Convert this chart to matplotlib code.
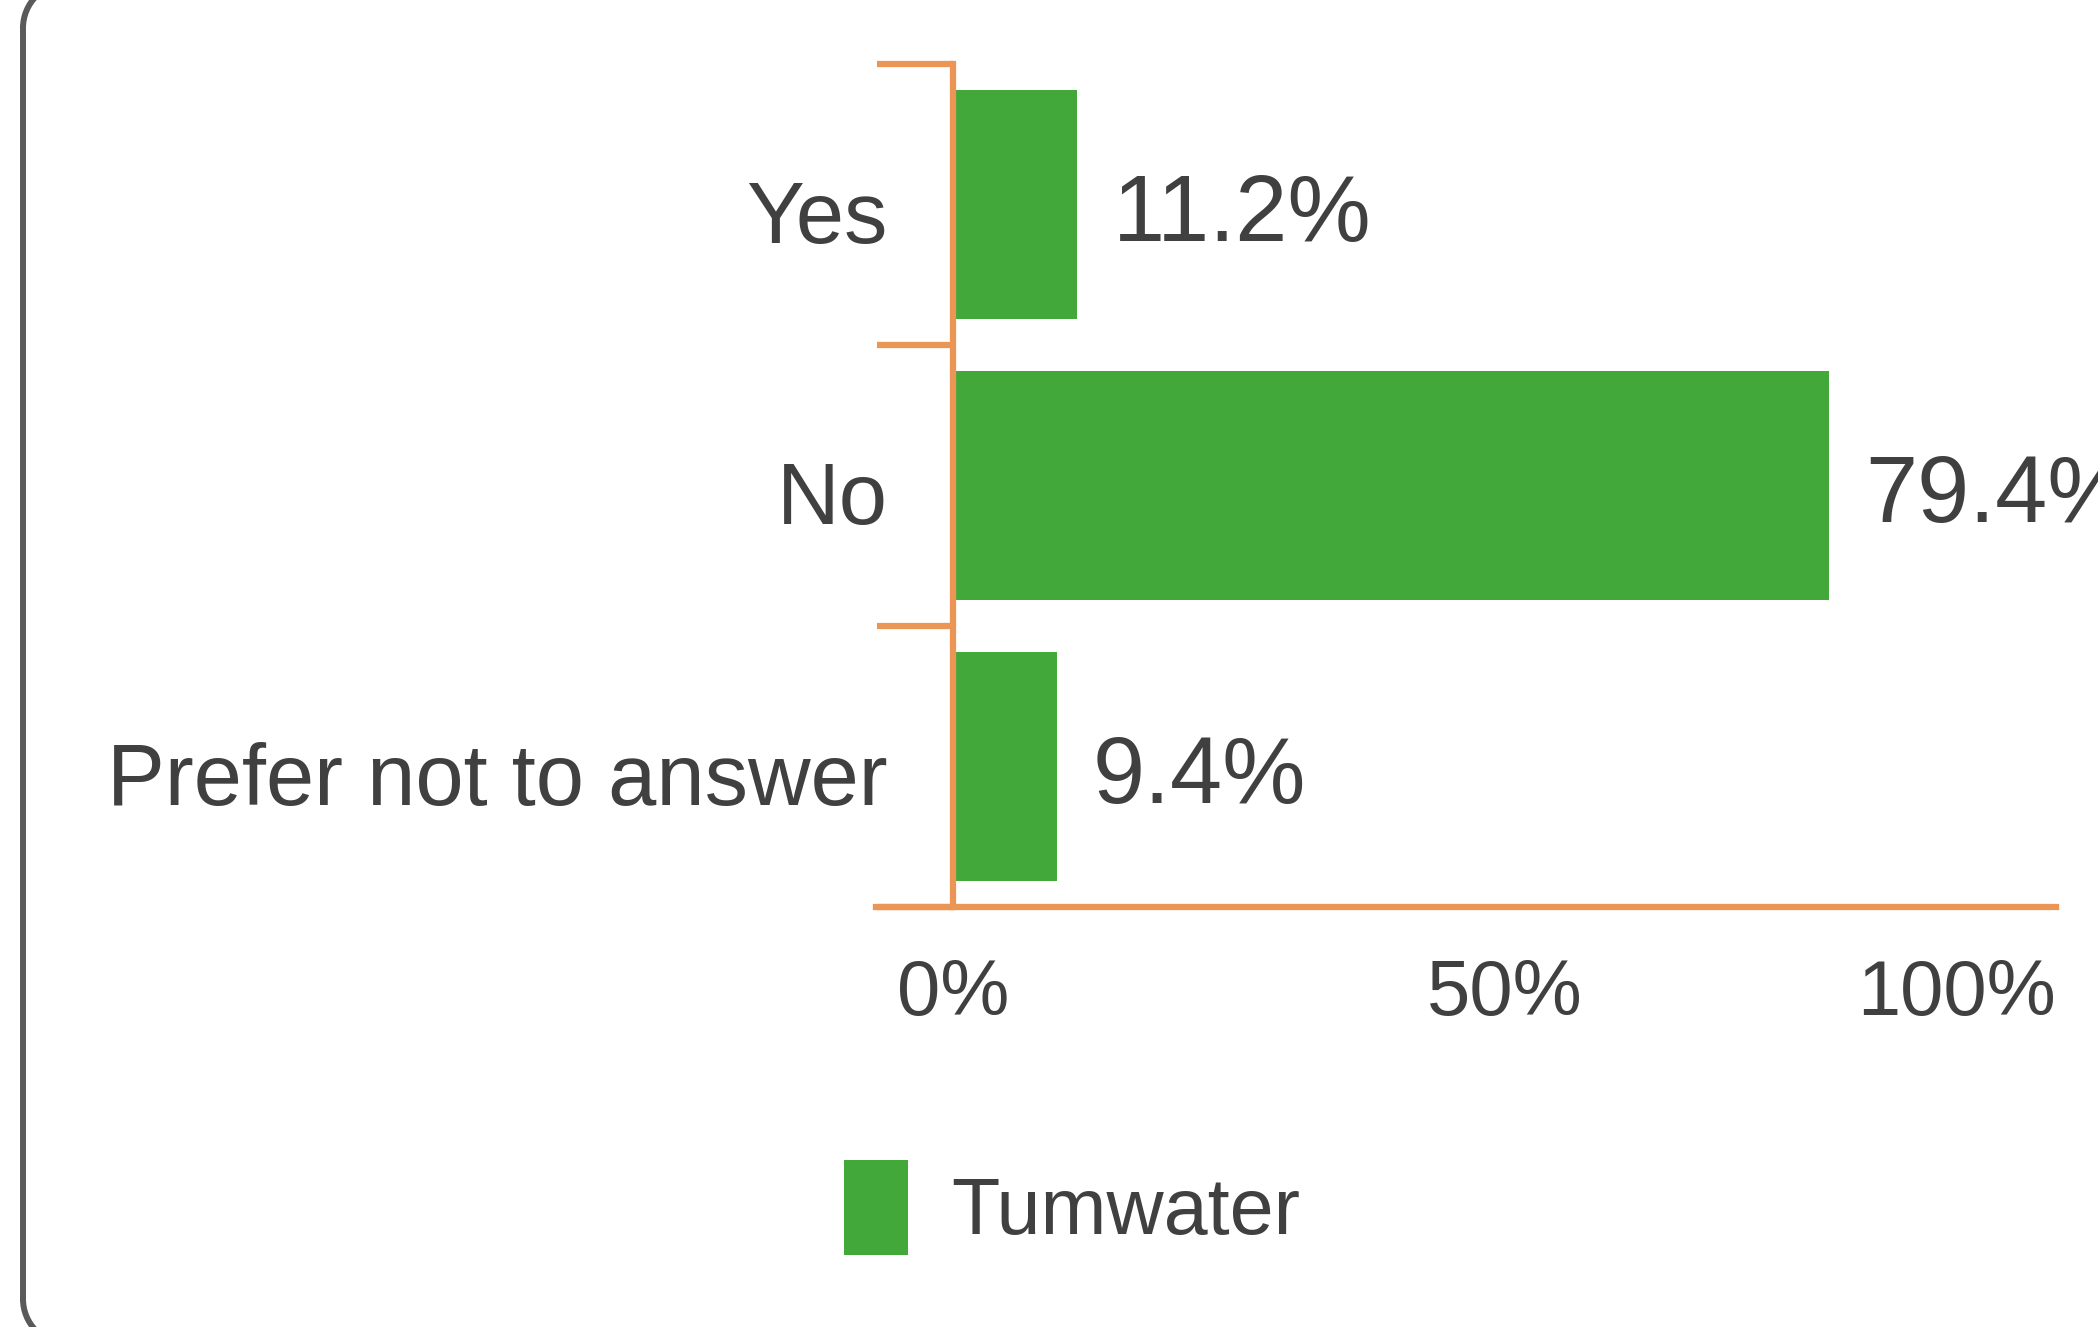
import matplotlib
matplotlib.use("Agg")
import matplotlib.pyplot as plt
from matplotlib.lines import Line2D
from matplotlib.patches import Arc, Patch
from matplotlib.transforms import ScaledTranslation

# survey answers, percent of respondents
categories = ["Yes", "No", "Prefer not to answer"]
tumwater_pct = [11.2, 79.4, 9.4]
series_name = "Tumwater"
x_ticks = [0, 50, 100]

BAR_GREEN = "#43a83a"
AXIS_ORANGE = "#ec9656"
TEXT_GRAY = "#404040"
FRAME_GRAY = "#5a5a5a"

plt.rcParams["font.family"] = ["Liberation Sans", "DejaVu Sans"]

W, H = 2098, 1327
fig = plt.figure(figsize=(W / 100, H / 100), dpi=100)
ax = fig.add_axes([0.4175, 0.3165, 0.5624, 0.6353])

ypos = list(range(len(categories)))
ax.barh(ypos, tumwater_pct, height=0.815, color=BAR_GREEN, zorder=2)

for y, v in zip(ypos, tumwater_pct):
    ax.annotate(f"{v:.1f}%", xy=(v, y), xytext=(26, -9), textcoords="offset points",
                va="center", ha="left", fontsize=67.5, color=TEXT_GRAY,
                annotation_clip=False)

ax.set_xlim(-7, 100)
ax.set_ylim(len(categories) - 0.5, -0.5)

# orange axis lines, y axis sits at x = 0
for side in ("top", "right"):
    ax.spines[side].set_visible(False)
ax.spines["left"].set_position(("data", 0))
for side in ("left", "bottom"):
    ax.spines[side].set_color(AXIS_ORANGE)
    ax.spines[side].set_linewidth(4.5)
    ax.spines[side].set_zorder(3)

ax.set_yticks(ypos)
ax.set_yticklabels(categories)
ax.set_yticks([y - 0.5 for y in ypos] + [ypos[-1] + 0.5], minor=True)
ax.tick_params(axis="y", which="major", length=0, pad=47, labelsize=62.5, labelcolor=TEXT_GRAY)
ax.tick_params(axis="y", which="minor", length=55, width=4.5, color=AXIS_ORANGE, direction="out")
shift_down = ScaledTranslation(0, -0.07, fig.dpi_scale_trans)
for lbl in ax.get_yticklabels():
    lbl.set_transform(lbl.get_transform() + shift_down)

ax.set_xticks(x_ticks)
ax.set_xticklabels([f"{t}%" for t in x_ticks])
ax.tick_params(axis="x", length=0, pad=37, labelsize=56, labelcolor=TEXT_GRAY)
ax.get_xticklabels()[-1].set_horizontalalignment("right")

fig.legend(handles=[Patch(facecolor=BAR_GREEN, label=series_name)],
           loc="center left", bbox_to_anchor=(0.3833, 0.0897), frameon=False,
           fontsize=57, handlelength=0.81, handleheight=1.47, handletextpad=0.55,
           borderpad=0, labelcolor=TEXT_GRAY)

# rounded panel border (left side with both corners; the rest runs off the canvas)
r, x0, y_bot, y_top = 45, 23, -17, H + 17
border = dict(color=FRAME_GRAY, linewidth=4.3, transform=fig.transFigure)
fig.add_artist(Line2D([x0 / W, x0 / W], [(y_bot + r) / H, (y_top - r) / H], **border))
fig.add_artist(Line2D([(x0 + r) / W, 1.05], [y_bot / H, y_bot / H], **border))
fig.add_artist(Line2D([(x0 + r) / W, 1.05], [y_top / H, y_top / H], **border))
fig.add_artist(Arc(((x0 + r) / W, (y_bot + r) / H), 2 * r / W, 2 * r / H,
                   theta1=180, theta2=270, edgecolor=FRAME_GRAY, linewidth=4.3,
                   transform=fig.transFigure))
fig.add_artist(Arc(((x0 + r) / W, (y_top - r) / H), 2 * r / W, 2 * r / H,
                   theta1=90, theta2=180, edgecolor=FRAME_GRAY, linewidth=4.3,
                   transform=fig.transFigure))

fig.savefig("out.png", dpi=100)
